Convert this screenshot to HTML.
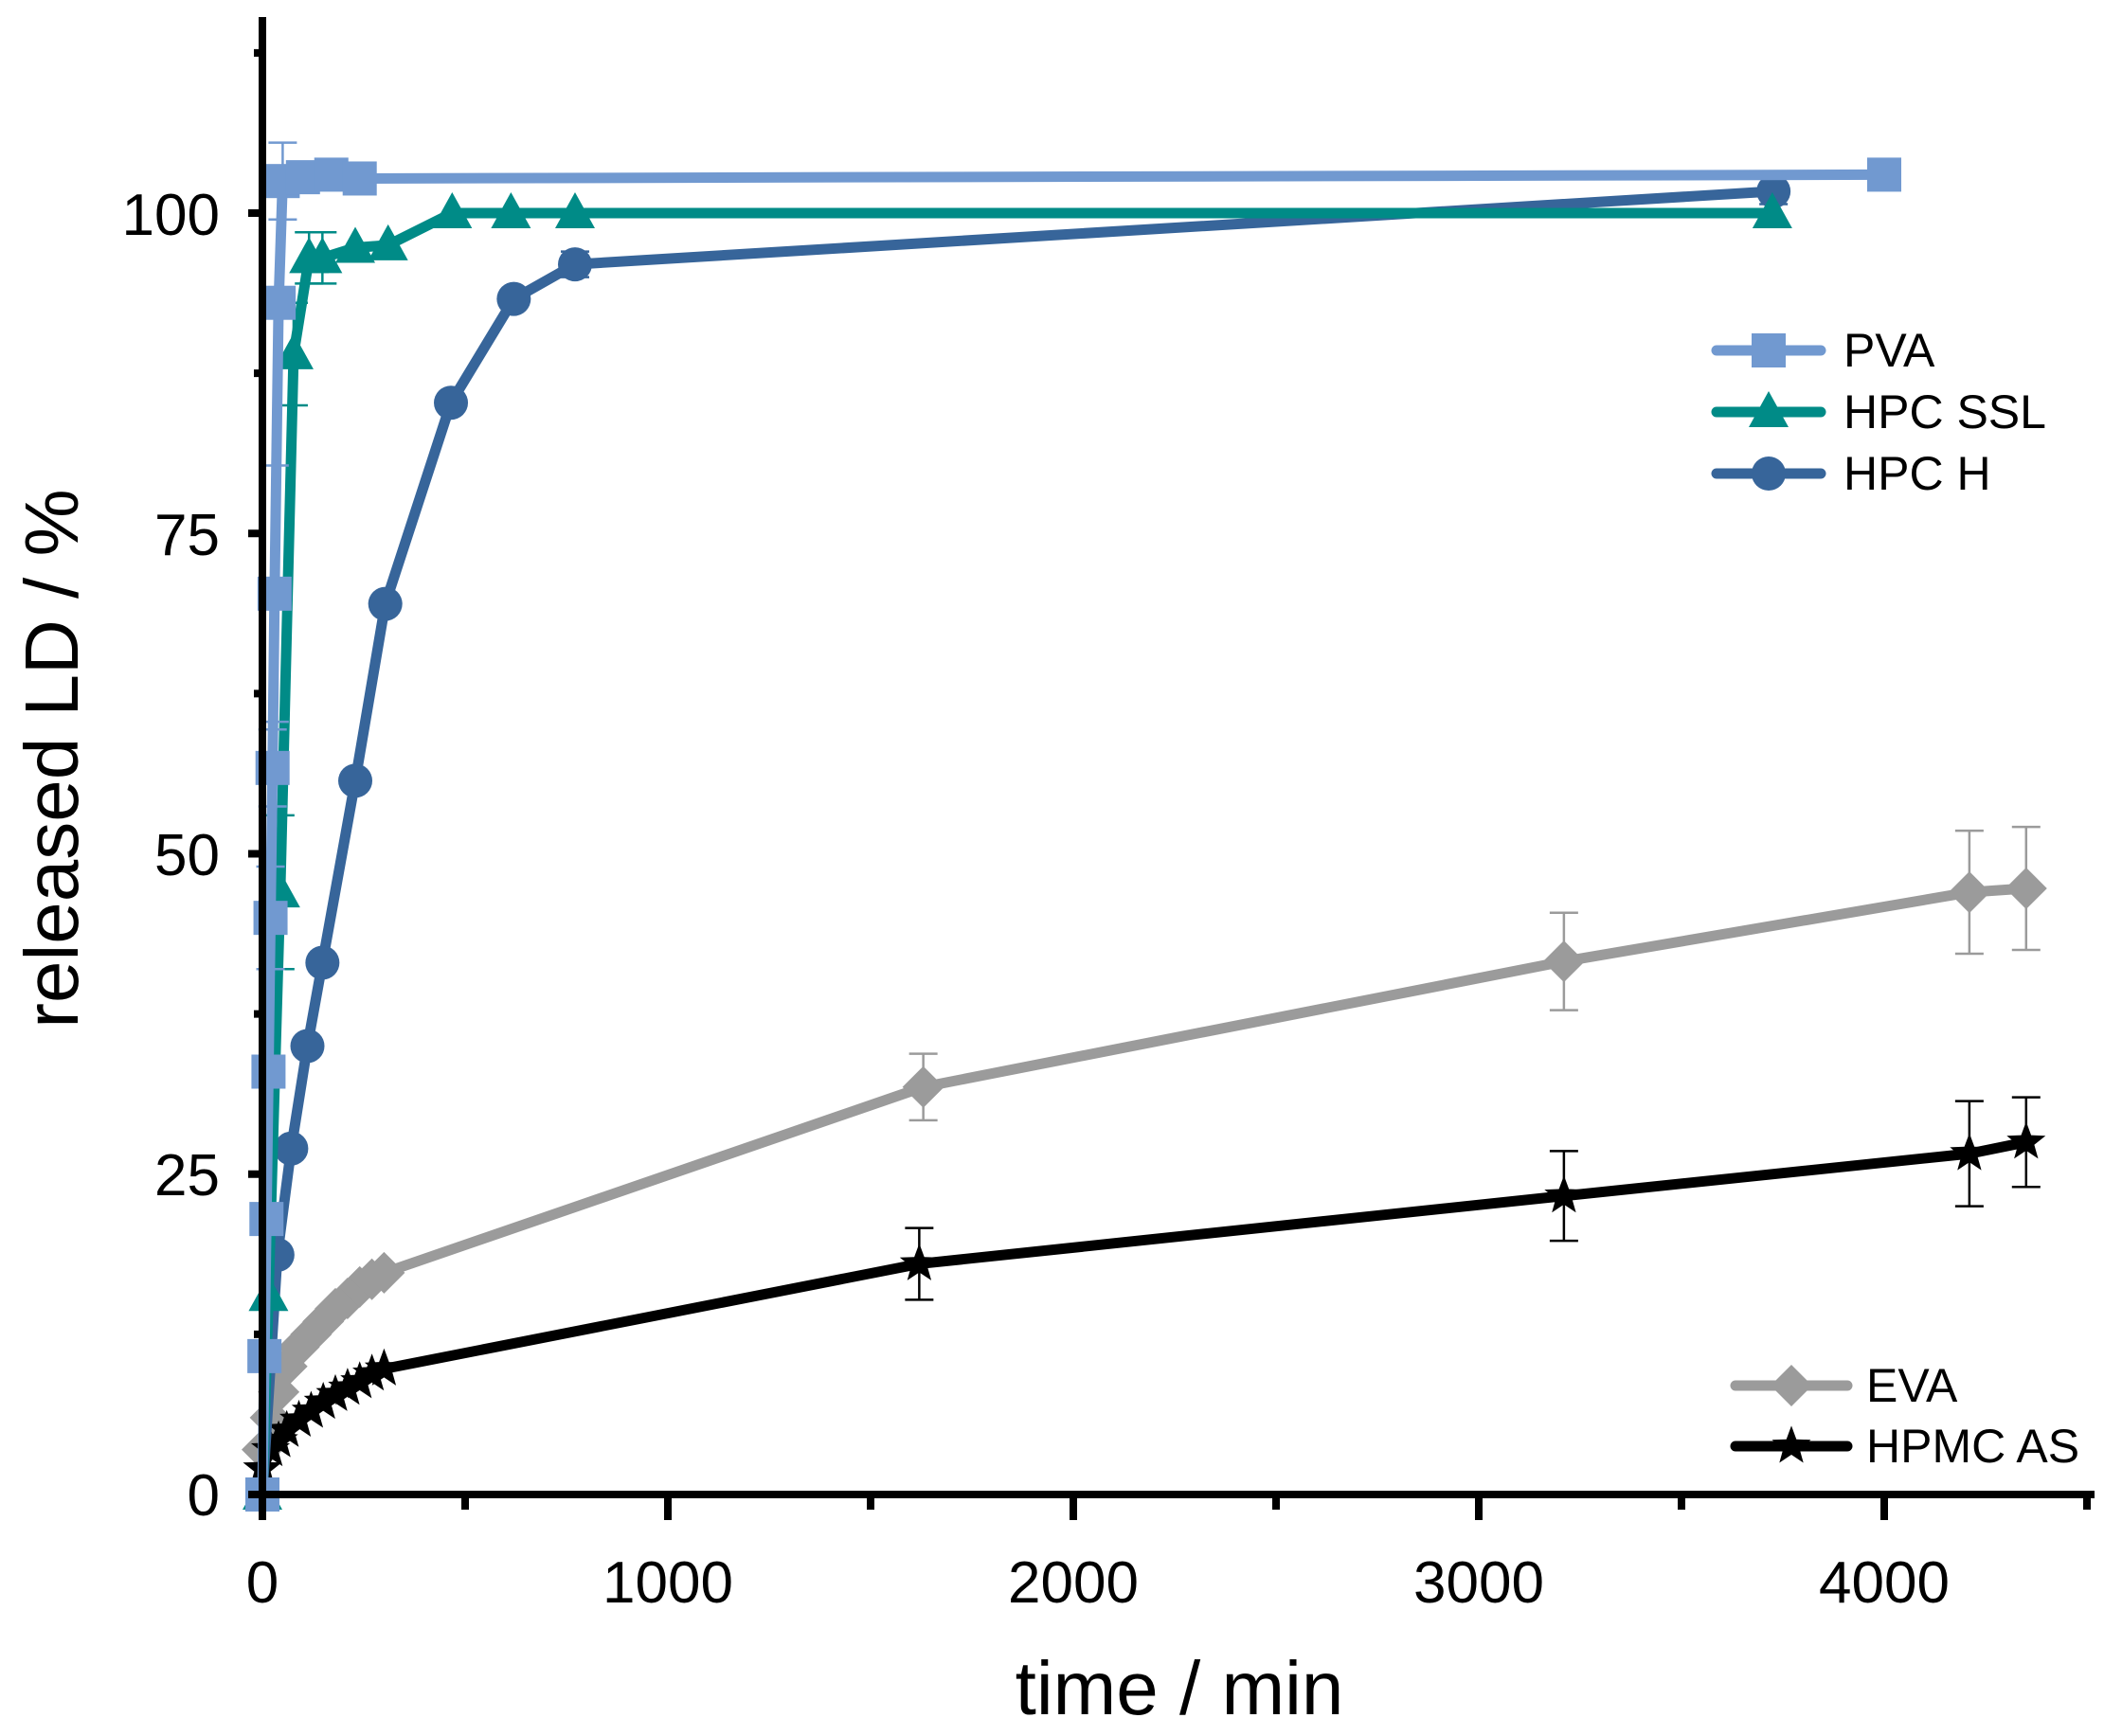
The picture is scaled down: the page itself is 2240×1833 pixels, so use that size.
<!DOCTYPE html>
<html><head><meta charset="utf-8"><style>
body{margin:0;background:#fff}
svg{display:block}
text{font-family:"Liberation Sans",Arial,sans-serif;fill:#000}
</style></head><body>
<svg id="s" width="2240" height="1833" viewBox="0 0 2240 1833" xmlns="http://www.w3.org/2000/svg">
<g id="data"></g>
<g id="axes" stroke="#000" stroke-width="8" fill="none">
<line x1="277" y1="18" x2="277" y2="1582"/>
<line x1="273" y1="1578" x2="2211" y2="1578"/>
</g>
<g id="ticks" stroke="#000" stroke-width="8"></g>
<g font-size="62" text-anchor="end">
<text x="232" y="1600">0</text>
<text x="232" y="1262">25</text>
<text x="232" y="924">50</text>
<text x="232" y="586">75</text>
<text x="232" y="248">100</text>
</g>
<g font-size="62" text-anchor="middle">
<text x="277" y="1692">0</text>
<text x="705" y="1692">1000</text>
<text x="1133" y="1692">2000</text>
<text x="1561" y="1692">3000</text>
<text x="1989" y="1692">4000</text>
</g>
<text x="1245" y="1810" font-size="80" text-anchor="middle">time / min</text>
<text transform="translate(82,801) rotate(-90)" font-size="80" text-anchor="middle">released LD / %</text>
<g id="leg"></g>
<g font-size="50">
<text x="1946" y="387">PVA</text>
<text x="1946" y="452">HPC SSL</text>
<text x="1946" y="517">HPC H</text>
<text x="1970" y="1480">EVA</text>
<text x="1970" y="1544">HPMC AS</text>
</g>
</svg>
<script>
var NS="http://www.w3.org/2000/svg";
function X(t){return 277+0.428*t}
function Y(v){return 1578-13.53*v}
function el(p,n,a){var e=document.createElementNS(NS,n);for(var k in a)e.setAttribute(k,a[k]);p.appendChild(e);return e}
var tk=document.getElementById('ticks');
for(var v=0;v<=112.5;v+=12.5){var maj=(v%25==0);el(tk,'line',{x1:maj?262:268,x2:277,y1:Y(v),y2:Y(v)})}
for(var t=0;t<=4500;t+=500){var maj=(t%1000==0);el(tk,'line',{x1:X(t),x2:X(t),y1:1578,y2:maj?1605:1594})}
var D=document.getElementById('data');
function marker(g,type,x,y,c,s){
 s=s||18;
 if(type=='sq')el(g,'rect',{x:x-s,y:y-s,width:2*s,height:2*s,fill:c});
 else if(type=='tri')el(g,'polygon',{points:(x)+','+(y-s-4)+' '+(x-s-3)+','+(y+s-2)+' '+(x+s+3)+','+(y+s-2),fill:c});
 else if(type=='ci')el(g,'circle',{cx:x,cy:y,r:s,fill:c});
 else if(type=='di')el(g,'polygon',{points:x+','+(y-s-4)+' '+(x+s+4)+','+y+' '+x+','+(y+s+4)+' '+(x-s-4)+','+y,fill:c});
 else if(type=='st'){var p=[];for(var i=0;i<10;i++){var r=i%2?s*0.5:s*1.2;var a=-Math.PI/2+i*Math.PI/5;p.push((x+r*Math.cos(a)).toFixed(1)+','+(y+r*Math.sin(a)).toFixed(1))}el(g,'polygon',{points:p.join(' '),fill:c})}
}
function series(pts,c,type,errs){
 var g=el(D,'g',{});
 if(errs)errs.forEach(function(e){var x=X(e[0]),y1=Y(e[1]-e[2]),y2=Y(e[1]+e[2]);
  el(g,'line',{x1:x,x2:x,y1:y1,y2:y2,stroke:c,'stroke-width':2.5});
  el(g,'line',{x1:x-15,x2:x+15,y1:y1,y2:y1,stroke:c,'stroke-width':2.5});
  el(g,'line',{x1:x-15,x2:x+15,y1:y2,y2:y2,stroke:c,'stroke-width':2.5});});
 el(g,'polyline',{points:pts.map(function(p){return X(p[0])+','+Y(p[1])}).join(' '),fill:'none',stroke:c,'stroke-width':11,'stroke-linejoin':'round','stroke-linecap':'round'});
 pts.forEach(function(p){marker(g,type,X(p[0]),Y(p[1]),c)});
}
var eva=[[0,3.5],[20,6],[40,8],[60,10],[90,11.5],[120,12.5],[150,13.5],[180,14.5],[210,15.3],[240,16.2],[270,16.8],[300,17.3],[1630,31.8],[3210,41.6],[4210,47],[4350,47.3]];
series(eva,'#9b9b9b','di',[[1630,31.8,2.6],[3210,41.6,3.8],[4210,47,4.8],[4350,47.3,4.8]]);
var hp=[[0,2],[20,3.5],[40,4.2],[60,5],[90,5.8],[120,6.5],[150,7.2],[180,7.8],[210,8.3],[240,8.8],[270,9.4],[300,9.8],[1620,18],[3210,23.3],[4210,26.6],[4350,27.5]];
series(hp,'#000','st',[[1620,18,2.8],[3210,23.3,3.5],[4210,26.6,4.1],[4350,27.5,3.5]]);
series([[0,0],[37,18.7],[71,27],[111,35],[148,41.5],[229,55.7],[303,69.5],[465,85.2],[620,93.3],[771,96],[3727,101.7]],'#37659a','ci',[[771,96,1],[3727,101.7,1]]);
series([[0,0],[15,15.5],[44,47],[77,89],[115,96.5],[148,96.5],[229,97.3],[310,97.5],[468,100],[613,100],[771,100],[3724,100]],'#008b87','tri',[[77,89,4],[115,96.5,2],[148,96.5,2],[44,47,6]]);
series([[0,0],[5,10.8],[10,21.5],[15,33],[20,45],[25,56.7],[30,70.3],[40,93],[50,102.5],[100,102.8],[170,103],[240,102.7],[4000,103]],'#7199d0','sq',[[50,102.5,3],[30,70.3,10],[25,56.7,3],[20,45,4]]);
var L=document.getElementById('leg');
function leg(x1,x2,y,c,type){el(L,'line',{x1:x1,x2:x2,y1:y,y2:y,stroke:c,'stroke-width':11,'stroke-linecap':'round'});marker(L,type,(x1+x2)/2,y,c)}
leg(1812,1922,370,'#7199d0','sq');
leg(1812,1922,435,'#008b87','tri');
leg(1812,1922,500,'#37659a','ci');
leg(1832,1950,1463,'#9b9b9b','di');
leg(1832,1950,1527,'#000','st');
</script>
</body></html>
